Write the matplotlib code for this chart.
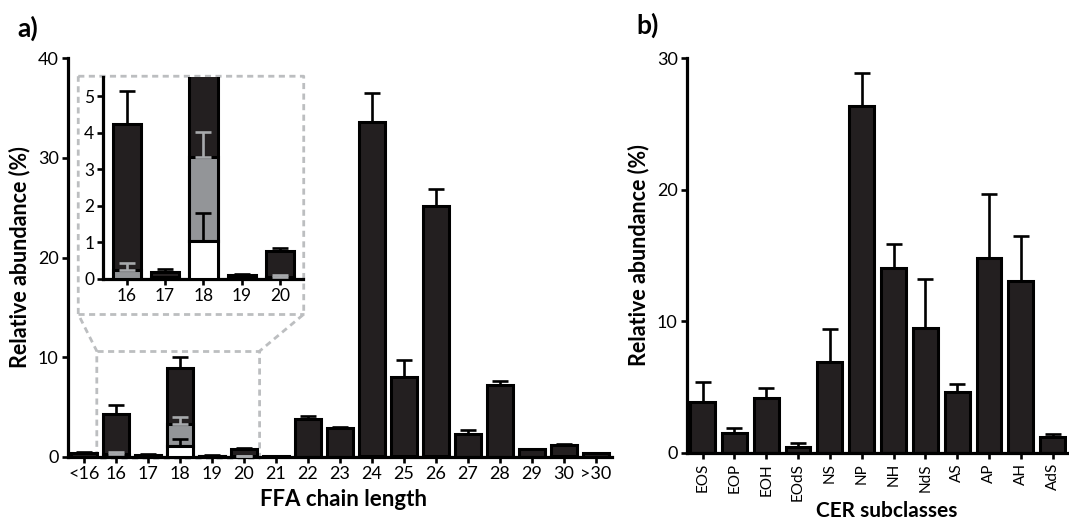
import numpy as np
import matplotlib
matplotlib.use("Agg")
import matplotlib.pyplot as plt

plt.rcParams['font.family'] = ['Lato', 'DejaVu Sans']

# ---------------- data ----------------
ffa_labels = ['<16', '16', '17', '18', '19', '20', '21', '22', '23', '24',
              '25', '26', '27', '28', '29', '30', '>30']
ffa_total = [0.40, 4.24, 0.17, 8.93, 0.10, 0.75, 0.08, 3.77, 2.85, 33.6,
             8.01, 25.2, 2.25, 7.23, 0.75, 1.22, 0.36]
ffa_total_err = [0.10, 0.91, 0.10, 1.07, 0.03, 0.08, 0.02, 0.34, 0.17, 2.9,
                 1.67, 1.7, 0.47, 0.34, 0.07, 0.10, 0.04]
# sub-fractions (segment heights, stacked from the bottom)
ffa_white = [0, 0, 0, 1.03, 0, 0, 0, 0, 0, 0, 0, 0, 0, 0, 0, 0, 0]
ffa_white_err = [0, 0, 0, 0.77, 0, 0, 0, 0, 0, 0, 0, 0, 0, 0, 0, 0, 0]
ffa_gray = [0, 0.23, 0.05, 2.30, 0.03, 0.06, 0, 0, 0, 0.05,
            0.05, 0.05, 0, 0, 0, 0.05, 0]
ffa_gray_err = [0, 0.21, 0.0, 0.69, 0.0, 0.04, 0, 0, 0, 0,
                0, 0, 0, 0, 0, 0, 0]

inset_labels = ['16', '17', '18', '19', '20']

cer_labels = ['EOS', 'EOP', 'EOH', 'EOdS', 'NS', 'NP', 'NH', 'NdS',
              'AS', 'AP', 'AH', 'AdS']
cer_values = [3.82, 1.50, 4.15, 0.45, 6.93, 26.4, 14.06, 9.48,
              4.60, 14.8, 13.08, 1.21]
cer_err = [1.58, 0.35, 0.75, 0.25, 2.50, 2.5, 1.84, 3.72,
           0.63, 4.9, 3.42, 0.25]

# ---------------- style ----------------
DARK = '#231f20'
GRAY = '#939598'
LGRAY = '#a7a9ac'
DASH = '#bcbec0'
EDGE_LW = 2.2
ERR_LW = 1.9
TICK_FS = 13

fig = plt.figure(figsize=(10.69, 5.2), dpi=100)
W, H = 1069.0, 520.0


def style_axes(ax):
    for s in ['top', 'right']:
        ax.spines[s].set_visible(False)
    for s in ['left', 'bottom']:
        ax.spines[s].set_linewidth(2.3)
        ax.spines[s].set_color('black')
    ax.tick_params(axis='both', direction='out', length=4.5, width=1.9,
                   labelsize=TICK_FS, color='black', pad=2)


def draw_ffa(ax, idx, width, capsize, xpos):
    tot = np.array(ffa_total)[idx]
    tot_e = np.array(ffa_total_err)[idx]
    wh = np.array(ffa_white)[idx]
    wh_e = np.array(ffa_white_err)[idx]
    gr = np.array(ffa_gray)[idx]
    gr_e = np.array(ffa_gray_err)[idx]
    gr_top = wh + gr
    ax.bar(xpos, tot, width=width, color=DARK, edgecolor='black',
           linewidth=EDGE_LW, zorder=2)
    ax.errorbar(xpos, tot, yerr=[np.zeros_like(tot), tot_e], fmt='none',
                ecolor='black', elinewidth=ERR_LW, capsize=capsize,
                capthick=ERR_LW, zorder=1)
    m = gr > 0
    ax.bar(xpos[m], gr[m], bottom=wh[m], width=width, color=GRAY,
           edgecolor='black', linewidth=EDGE_LW, zorder=3)
    m2 = gr_e > 0
    ax.errorbar(xpos[m2], gr_top[m2], yerr=[np.zeros(m2.sum()), gr_e[m2]],
                fmt='none', ecolor=LGRAY, elinewidth=ERR_LW, capsize=capsize,
                capthick=ERR_LW, zorder=3.5)
    m3 = wh > 0
    ax.bar(xpos[m3], wh[m3], width=width, color='white',
           edgecolor='black', linewidth=EDGE_LW, zorder=4)
    m4 = wh_e > 0
    ax.errorbar(xpos[m4], wh[m4], yerr=[np.zeros(m4.sum()), wh_e[m4]],
                fmt='none', ecolor='black', elinewidth=ERR_LW, capsize=capsize,
                capthick=ERR_LW, zorder=4.5)


# ---------------- panel a ----------------
axA = fig.add_axes([67.7 / W, 1 - 456.7 / H, (611.7 - 67.7) / W, (456.7 - 58.3) / H])
xa = np.arange(len(ffa_labels))
draw_ffa(axA, np.arange(len(ffa_labels)), 0.80, 5.5, xa)
axA.set_xlim(-0.51, 16.5)
axA.set_ylim(0, 40)
axA.set_yticks([0, 10, 20, 30, 40])
axA.set_xticks(xa)
axA.set_xticklabels(ffa_labels)
style_axes(axA)
axA.set_ylabel('Relative abundance (%)', fontsize=15.5, fontweight='bold', labelpad=5)
fig.text(343 / W, 1 - 499 / H, 'FFA chain length', fontsize=16, fontweight='bold',
         ha='center', va='center')

# dashed zoom outline (annotation, in panel-a data coordinates)
box_x = [-0.18, 6.87, 6.87, 5.49, 5.49, 0.40, 0.40, -0.18, -0.18]
box_y = [38.2, 38.2, 14.3, 10.6, -0.15, -0.15, 10.6, 14.3, 38.2]
axA.plot(box_x, box_y, color=DASH, lw=2.0, ls=(0, (2.2, 1.6)),
         clip_on=False, zorder=0.5)
axA.plot([-0.18, 6.87], [14.3, 14.3], color=DASH, lw=2.0, ls=(0, (2.2, 1.6)),
         clip_on=False, zorder=0.5)
axA.plot([0.40, 5.49], [10.6, 10.6], color=DASH, lw=2.0, ls=(0, (2.2, 1.6)),
         clip_on=False, zorder=0.5)

# ---------------- inset ----------------
ins = fig.add_axes([103.3 / W, 1 - 278.7 / H, (302.7 - 103.3) / W, (278.7 - 76.7) / H])
xi = np.arange(len(inset_labels))
draw_ffa(ins, np.arange(1, 6), 0.74, 5.5, xi)
ins.set_xlim(-0.61, 4.59)
ins.set_ylim(0, 5.53)
ins.set_yticks([0, 1, 2, 3, 4, 5])
ins.set_xticks(xi)
ins.set_xticklabels(inset_labels)
style_axes(ins)
ins.tick_params(labelsize=12.5)
ins.patch.set_alpha(0)

# ---------------- panel b ----------------
axB = fig.add_axes([686.7 / W, 1 - 452.7 / H, (1067 - 686.7) / W, (452.7 - 58.3) / H])
xb = np.arange(len(cer_labels))
axB.bar(xb, cer_values, width=0.78, color=DARK, edgecolor='black',
        linewidth=EDGE_LW, zorder=2)
axB.errorbar(xb, cer_values, yerr=[np.zeros(len(cer_values)), cer_err],
             fmt='none', ecolor='black', elinewidth=ERR_LW, capsize=5.5,
             capthick=ERR_LW, zorder=1)
axB.set_xlim(-0.5, 11.45)
axB.set_ylim(0, 30)
axB.set_yticks([0, 10, 20, 30])
axB.set_xticks(xb)
axB.set_xticklabels(cer_labels, rotation=90)
style_axes(axB)
axB.tick_params(axis='x', labelsize=11, pad=3)
axB.set_ylabel('Relative abundance (%)', fontsize=15.5, fontweight='bold', labelpad=5)
fig.text(887 / W, 1 - 511 / H, 'CER subclasses', fontsize=15, fontweight='bold',
         ha='center', va='center')

# panel letters
fig.text(17 / W, 1 - 28 / H, 'a)', fontsize=19, fontweight='bold', va='center', ha='left')
fig.text(636 / W, 1 - 25 / H, 'b)', fontsize=19, fontweight='bold', va='center', ha='left')

fig.savefig('out.png', dpi=100)
